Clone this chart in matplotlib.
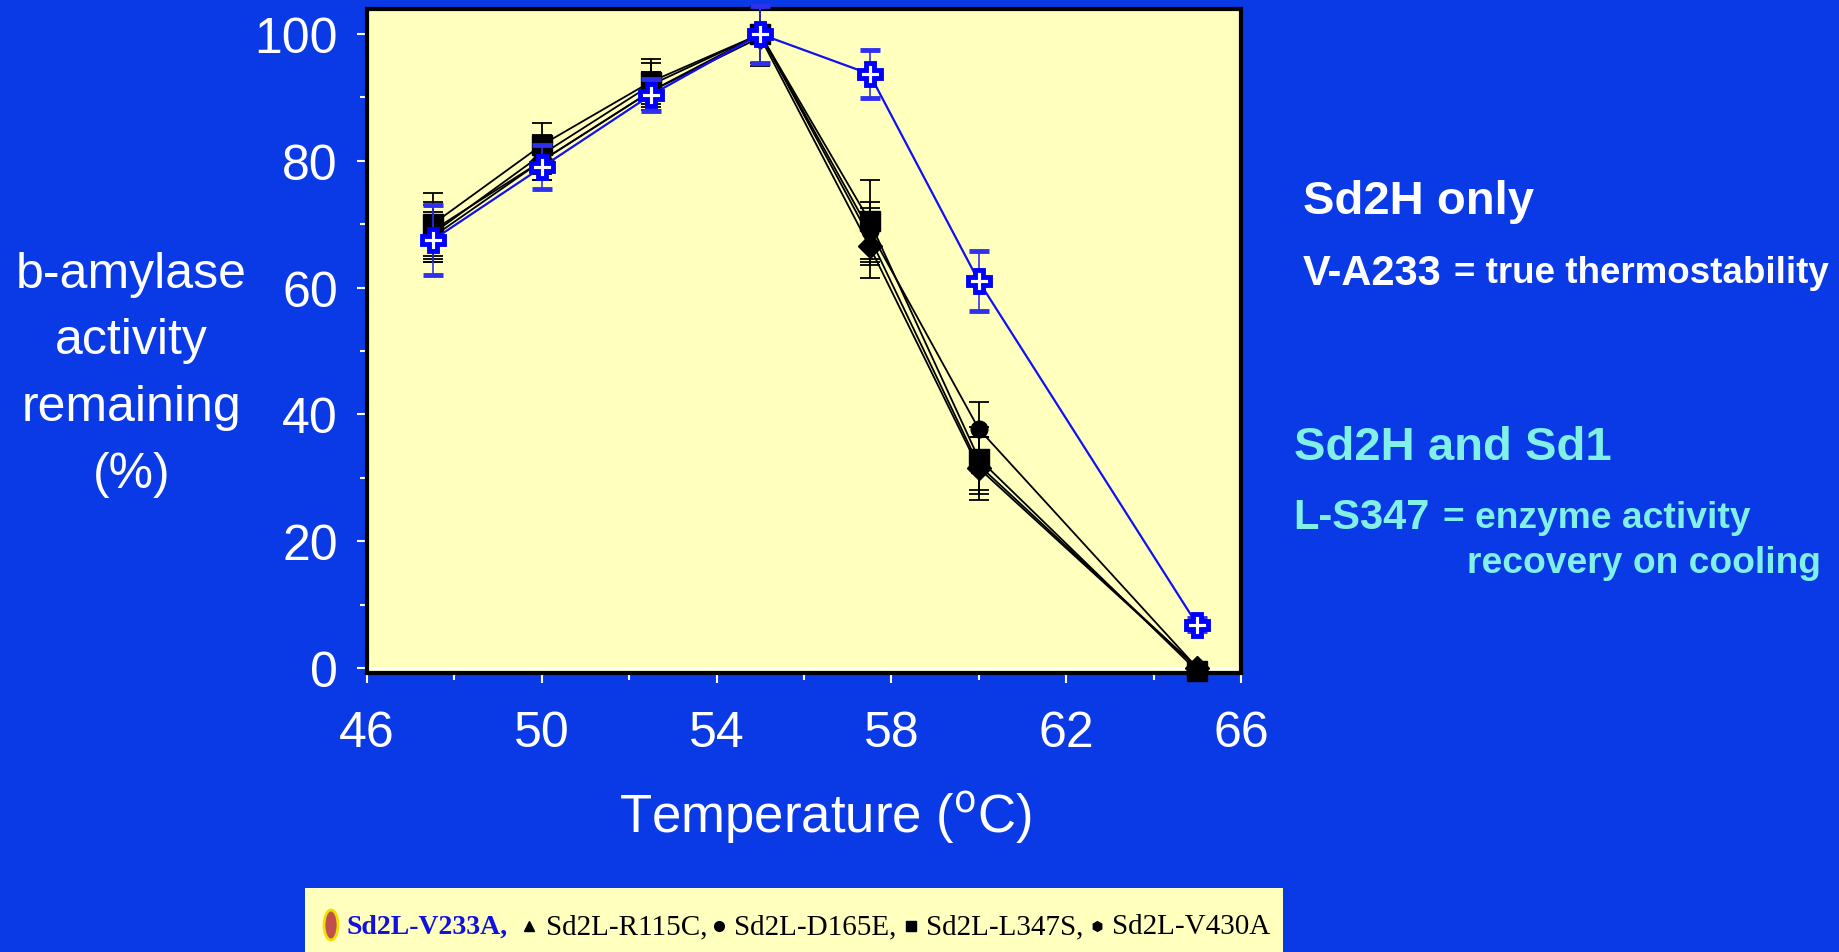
import matplotlib.pyplot as plt
from matplotlib.patches import Ellipse

# Data
temps = [47.5, 50, 52.5, 55, 57.5, 60, 65]

v233a = [67.5, 79, 90.4, 100, 93.7, 61, 6.8]
v233a_err = [5.5, 3.5, 2.5, 4.5, 3.8, 4.7, 1.0]

black_names = ['Sd2L-R115C', 'Sd2L-D165E', 'Sd2L-L347S', 'Sd2L-V430A']
black_markers = ['^', 'o', 's', 'D']
black_values = [
    [69, 80, 91, 100, 68, 32, 0],
    [68.5, 81, 92, 100, 69, 37.7, 0],
    [70, 82.5, 92.5, 100, 70.5, 33, -0.5],
    [68, 80, 91, 99.5, 66.5, 31.5, 0],
]
black_err = [
    [4.5, 3, 3, 4.5, 4.5, 4.5, 0.5],
    [4.5, 3, 3.5, 4.5, 4.5, 4.3, 0.5],
    [5, 3.5, 3.5, 4.5, 6.5, 5, 0.5],
    [4, 3, 3, 4.5, 5, 5, 0.5],
]

legend_labels = ['Sd2L-V233A,', 'Sd2L-R115C,', 'Sd2L-D165E,', 'Sd2L-L347S,', 'Sd2L-V430A']

BG = '#0A3AE6'
PLOT_BG = '#FFFFBE'
CYAN = '#80F0E8'

plt.rcParams['font.family'] = ['Liberation Sans', 'DejaVu Sans']

fig = plt.figure(figsize=(18.39, 9.53), dpi=100, facecolor=BG)
ax = fig.add_axes([0.1996, 0.2928, 0.4752, 0.697])
ax.set_facecolor(PLOT_BG)

# black mutants
for vals, errs, mk in zip(black_values, black_err, black_markers):
    ax.errorbar(temps, vals, yerr=errs, color='black', lw=1.3, marker=mk,
                ms=14 if mk == 's' else 12, mfc='black', mec='black',
                ecolor='black', elinewidth=1.3, capsize=7, capthick=1.3,
                zorder=3, clip_on=False)

# V233A in blue
ax.errorbar(temps, v233a, yerr=v233a_err, color='#1010F0', lw=1.6, marker='P',
            ms=16, mfc='white', mec='#0000FF', mew=3.5, ecolor='#3030F0',
            elinewidth=1.2, capsize=7, capthick=1.2, zorder=4, clip_on=False)

ax.axhline(0, color='white', lw=1.5, zorder=2)

ax.set_xlim(46, 66)
ax.set_ylim(-0.8, 104)
ax.set_xticks([46, 50, 54, 58, 62, 66])
ax.set_xticks([48, 52, 56, 60, 64], minor=True)
ax.set_yticks([0, 20, 40, 60, 80, 100])
ax.set_yticks([10, 30, 50, 70, 90], minor=True)
ax.tick_params(axis='both', which='both', colors='white', direction='out',
               labelsize=36, width=1.5)
ax.tick_params(which='major', length=7)
ax.tick_params(which='minor', length=5)
ax.tick_params(axis='x', pad=20)
ax.tick_params(axis='y', pad=14)
for s in ax.spines.values():
    s.set_color('black')
    s.set_linewidth(3)

fig.text(0.449, 0.141, 'Temperature ($^{\\mathrm{o}}$C)', color='white',
         fontsize=38, ha='center', va='center')
fig.text(0.0714, 0.6066, 'b-amylase\nactivity\nremaining\n(%)', color='white',
         fontsize=36, ha='center', va='center', linespacing=1.58)

# annotations on the right
fig.text(0.7085, 0.788, 'Sd2H only', color='white', fontsize=34,
         fontweight='bold', va='center')
fig.text(0.7085, 0.713, 'V-A233', color='white', fontsize=30,
         fontweight='bold', va='center')
fig.text(0.7907, 0.713, '= true thermostability', color='white', fontsize=26.5,
         fontweight='bold', va='center')
fig.text(0.7035, 0.530, 'Sd2H and Sd1', color=CYAN, fontsize=34,
         fontweight='bold', va='center')
fig.text(0.7035, 0.456, 'L-S347', color=CYAN, fontsize=30,
         fontweight='bold', va='center')
fig.text(0.7845, 0.456, '= enzyme activity', color=CYAN, fontsize=26.8,
         fontweight='bold', va='center')
fig.text(0.990, 0.409, 'recovery on cooling', color=CYAN, fontsize=26.8,
         fontweight='bold', va='center', ha='right')

# legend strip at the bottom
lax = fig.add_axes([305 / 1839, 0, 978 / 1839, 64 / 953])
lax.set_facecolor(PLOT_BG)
lax.set_xlim(0, 978)
lax.set_ylim(0, 64)
lax.set_xticks([])
lax.set_yticks([])
for s in lax.spines.values():
    s.set_visible(False)

lax.add_patch(Ellipse((26, 27), 14, 30, facecolor='#C05050',
                      edgecolor='#F0E000', lw=2))
sym_x = [224, 414, 606, 792]
txt_x = [42, 241, 429, 621, 807]
small_markers = ['^', 'o', 's', 'h']
for x, mk in zip(sym_x, small_markers):
    lax.plot([x], [26], marker=mk, ms=7, color='black', ls='none')
for i, (x, lab) in enumerate(zip(txt_x, legend_labels)):
    lax.text(x, 26, lab, family=['Liberation Serif', 'DejaVu Serif'],
             fontsize=20 if i == 0 else 21, va='center', ha='left',
             color='#1010E0' if i == 0 else 'black',
             fontweight='bold' if i == 0 else 'normal')

fig.savefig('out.png', dpi=100, facecolor=BG)
